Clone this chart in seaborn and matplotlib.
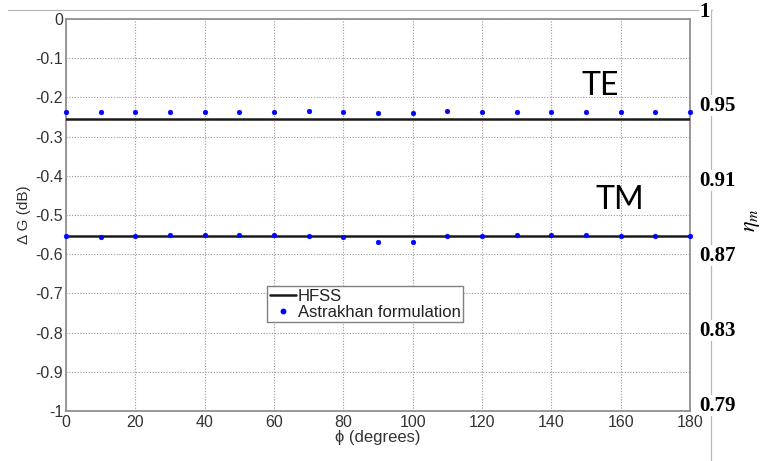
import numpy as np
import pandas as pd
import matplotlib
matplotlib.use("Agg")
import matplotlib.pyplot as plt
from matplotlib.lines import Line2D
import seaborn as sns

# ---- data ----
phi = [0, 10, 20, 30, 40, 50, 60, 70, 80, 90, 100, 110, 120, 130, 140, 150, 160, 170, 180]
te_astrakhan = [-0.236, -0.237, -0.236, -0.237, -0.236, -0.237, -0.237, -0.235, -0.236, -0.241,
                -0.241, -0.235, -0.236, -0.236, -0.236, -0.236, -0.236, -0.236, -0.236]
tm_astrakhan = [-0.554, -0.557, -0.554, -0.551, -0.550, -0.550, -0.552, -0.554, -0.556, -0.570,
                -0.568, -0.554, -0.553, -0.550, -0.550, -0.550, -0.553, -0.553, -0.554]
te_hfss = -0.255
tm_hfss = -0.554
x_ticks = [0, 20, 40, 60, 80, 100, 120, 140, 160, 180]
y_ticks = [0, -0.1, -0.2, -0.3, -0.4, -0.5, -0.6, -0.7, -0.8, -0.9, -1]
y_ticklabels = ["0", "-0.1", "-0.2", "-0.3", "-0.4", "-0.5", "-0.6", "-0.7", "-0.8", "-0.9", "-1"]
eta_ticks = [1, 0.95, 0.91, 0.87, 0.83, 0.79]
eta_ticklabels = ["1", "0.95", "0.91", "0.87", "0.83", "0.79"]

sns.set_theme(style="white")
plt.rcParams['font.family'] = ['Liberation Sans', 'DejaVu Sans']
plt.rcParams['mathtext.fontset'] = 'stix'

W, H = 768, 461
fig = plt.figure(figsize=(W / 100, H / 100), dpi=100)

def fx(px):
    return px / W

def fy(py):
    return 1 - py / H

ax = fig.add_axes([fx(66), fy(411), fx(690) - fx(66), fy(19) - fy(411)])

hfss_df = pd.DataFrame({
    "phi": phi * 2,
    "dG": [te_hfss] * len(phi) + [tm_hfss] * len(phi),
    "mode": ["TE"] * len(phi) + ["TM"] * len(phi),
})
ast_df = pd.DataFrame({
    "phi": phi * 2,
    "dG": te_astrakhan + tm_astrakhan,
    "mode": ["TE"] * len(phi) + ["TM"] * len(phi),
})

sns.lineplot(data=hfss_df, x="phi", y="dG", units="mode", estimator=None,
             color="#1a1a1a", linewidth=1.8, ax=ax, legend=False, zorder=3)
sns.scatterplot(data=ast_df, x="phi", y="dG", color="#0000ff", marker="o",
                s=12, edgecolor="#0000ff", linewidth=0.3, ax=ax, legend=False,
                zorder=4, clip_on=False)

ax.set_xlim(0, 180)
ax.set_ylim(-1, 0)
ax.set_xticks(x_ticks)
ax.set_xticklabels([str(t) for t in x_ticks])
ax.set_yticks(y_ticks)
ax.set_yticklabels(y_ticklabels)
ax.grid(True, linestyle=(0, (1, 1.5)), color="#999999", linewidth=0.8)
for s in ax.spines.values():
    s.set_color("#909090")
    s.set_linewidth(1.3)
ax.tick_params(axis="both", direction="in", length=4, width=0.8, color="#909090",
               labelsize=11.5, labelcolor="#333333", pad=2)
ax.tick_params(axis="x", pad=3)
ax.set_xlabel("ϕ (degrees)", fontsize=12, color="#333333", labelpad=0)
ax.set_ylabel("Δ G (dB)", fontsize=11, color="#333333", labelpad=3)

leg_handles = [
    Line2D([0], [0], color="#1a1a1a", lw=1.8),
    Line2D([0], [0], color="#0000ff", marker="o", ls="none", markersize=3.2),
]
leg = ax.legend(leg_handles, ["HFSS", "Astrakhan formulation"],
                loc="lower left", bbox_to_anchor=((267 - 66) / 624, (411 - 322) / 392),
                fontsize=12, frameon=True, fancybox=False, edgecolor="#808080",
                framealpha=1, handlelength=1.6, handletextpad=0.1,
                borderpad=0.15, labelspacing=0.05, borderaxespad=0)
leg.get_frame().set_linewidth(1.0)
for t in leg.get_texts():
    t.set_color("#222222")

ax.text((600 - 66) / 624, 1 - (86 - 19) / 392, "TE", fontsize=23,
        family=["Lato", "DejaVu Sans"], color="black", ha="center", va="center",
        transform=ax.transAxes)
ax.text((620 - 66) / 624, 1 - (200 - 19) / 392, "TM", fontsize=23,
        family=["Lato", "DejaVu Sans"], color="black", ha="center", va="center",
        transform=ax.transAxes)

# right-hand eta_m scale
ax2 = fig.add_axes([fx(66), fy(403.3), fx(690) - fx(66), fy(9.3) - fy(403.3)])
ax2.patch.set_visible(False)
for s in ax2.spines.values():
    s.set_visible(False)
ax2.set_xticks([])
ax2.set_ylim(0.79, 1.0)
ax2.yaxis.tick_right()
ax2.set_yticks(eta_ticks)
ax2.set_yticklabels(eta_ticklabels)
ax2.tick_params(axis="y", length=0, pad=7, labelsize=15)
for lab in ax2.get_yticklabels():
    lab.set_family(["Liberation Serif", "DejaVu Serif"])
    lab.set_fontweight("bold")
    lab.set_color("black")
    lab.set_bbox(dict(facecolor="white", edgecolor="none", pad=0.5))
    lab.set_zorder(5)

fig.text(fx(752), fy(220), r"$\eta_m$", rotation=90, fontsize=16,
         ha="center", va="center", color="black")

# frame lines of the pasted right axis
fig.add_artist(Line2D([fx(8), fx(712)], [fy(10), fy(10)], color="#b8b8b8", lw=0.9, zorder=0))
fig.add_artist(Line2D([fx(711), fx(711)], [fy(10), fy(461)], color="#b8b8b8", lw=0.9, zorder=0))

fig.savefig("out.png", dpi=100)
